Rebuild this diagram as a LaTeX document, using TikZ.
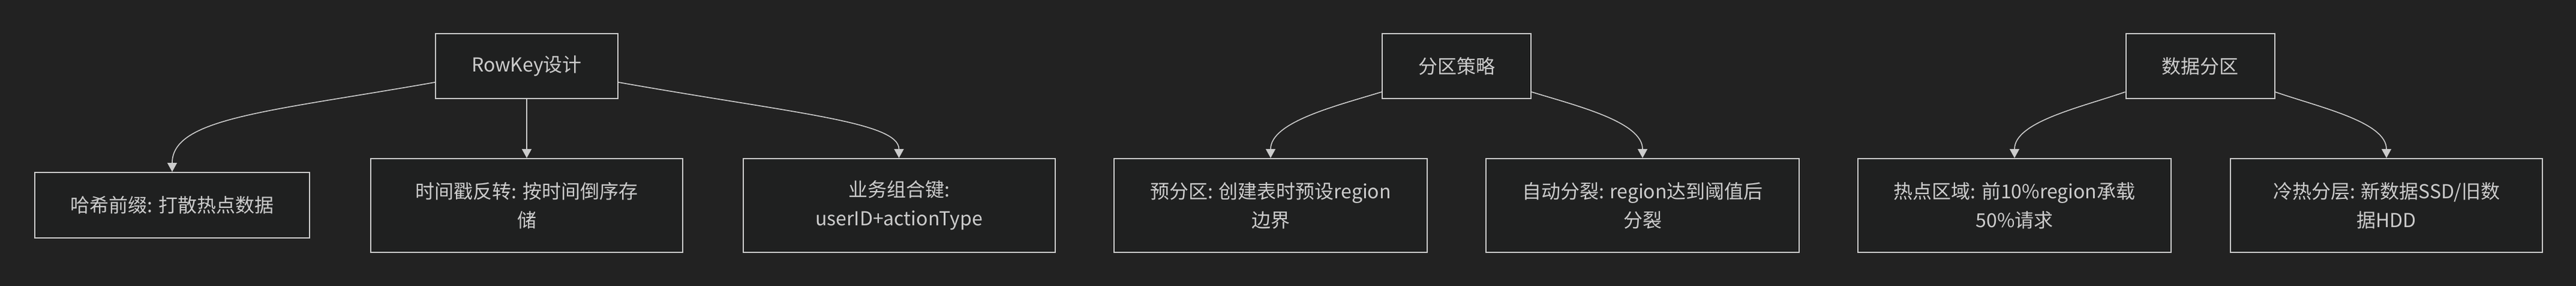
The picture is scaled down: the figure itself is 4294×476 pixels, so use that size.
\documentclass[tikz,border=0pt]{standalone}
\usepackage{fontspec}
\setmainfont{Noto Sans CJK SC}
\usepackage{tikz}
\usetikzlibrary{arrows.meta,positioning}
\definecolor{canvas}{HTML}{222222}
\definecolor{boxfill}{HTML}{1F2020}
\definecolor{ink}{HTML}{CCCCCC}
\newcommand{\branch}[5]{%
    \draw[link] (#1) to[out=#2, in=90, out distance=#3, in distance=#4] (#5);
}
\begin{document}
\begin{tikzpicture}[
            x=1pt, y=1pt,
            box/.style = {draw=ink, fill=boxfill,
                line width=2pt,
                text=ink,
                font=\fontsize{32pt}{48pt}\selectfont,
                align=center,
                inner xsep=60pt,
            },
            rootbox/.style = {box, minimum height=108pt},
            leafbox/.style = {box, minimum height=109pt},
            widebox/.style = {box, minimum height=156pt, minimum width=520pt},
            link/.style = {draw=ink, line width=1.6pt, -{Triangle[length=15pt, width=16pt]}},
        ]
            \fill[canvas] (0,0) rectangle (4294,-476);
            \useasboundingbox (0,0) rectangle (4294,-476);
            % RowKey
            \node[rootbox] (rowkey) at (878,-110) {RowKey设计};
            \node[leafbox] (hash) at (287,-341.5) {哈希前缀: 打散热点数据};
            \node[widebox] (stamp) at (878,-342) {时间戳反转: 按时间倒序存\\储};
            \node[widebox] (combo) at (1498.5,-342) {业务组合键:\\userID+actionType};
            \branch{rowkey.190}{190}{280pt}{90pt}{hash}
            \draw[link] (rowkey) -- (stamp);
            \branch{rowkey.-10}{-10}{300pt}{60pt}{combo}
            % partition strategy
            \node[rootbox] (strategy) at (2428,-110) {分区策略};
            \node[widebox] (presplit) at (2118,-342) {预分区: 创建表时预设region\\边界};
            \node[widebox] (autosplit) at (2738,-342) {自动分裂: region达到阈值后\\分裂};
            \branch{strategy.199}{197}{80pt}{60pt}{presplit}
            \branch{strategy.-19}{-17}{80pt}{60pt}{autosplit}
            % data partition
            \node[rootbox] (datapart) at (3667.5,-110) {数据分区};
            \node[widebox] (hotzone) at (3358,-342) {热点区域: 前10\%region承载\\50\%请求};
            \node[widebox] (tiering) at (3978,-342) {冷热分层: 新数据SSD/旧数\\据HDD};
            \branch{datapart.199}{199}{80pt}{60pt}{hotzone}
            \branch{datapart.-19}{-19}{80pt}{60pt}{tiering}
        \end{tikzpicture}
\end{document}
